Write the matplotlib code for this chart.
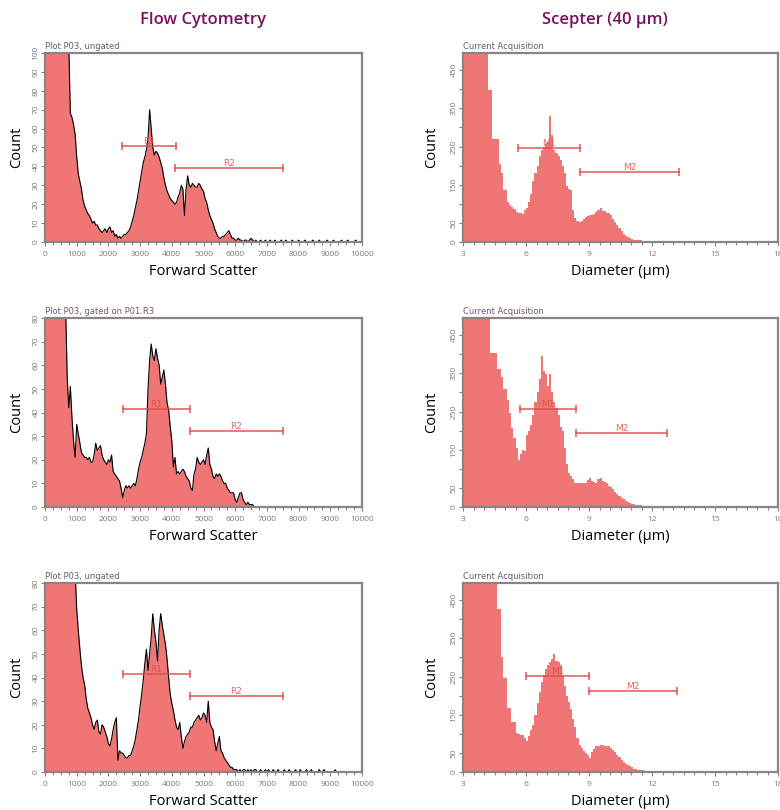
import numpy as np
from matplotlib import pyplot as plt

plt.rcParams['font.family'] = ['Open Sans', 'DejaVu Sans']

# flow cytometry histograms, channel width 50, 0..9950
fc_top = [
    300, 280, 260, 240, 220, 200, 185, 170, 160, 150, 140, 130, 125, 118, 110, 104, 68, 66, 62, 57,
    45, 36, 32, 28, 22, 19, 17, 15, 14, 12, 10, 11, 9, 9, 7, 6, 5, 6, 7, 5,
    7, 8, 5, 6, 3, 4, 2, 3, 2, 3, 4, 4, 5, 6, 8, 11, 14, 18, 22, 27,
    32, 37, 42, 45, 49, 55, 70, 60, 50, 46, 48, 47, 45, 42, 39, 34, 30, 27, 25, 23,
    22, 21, 20, 21, 24, 26, 30, 28, 14, 28, 35, 30, 29, 31, 30, 29, 29, 31, 30, 28,
    27, 23, 21, 17, 14, 12, 10, 7, 5, 3, 2, 2, 3, 3, 4, 5, 6, 4, 2, 2,
    1, 1, 2, 1, 1, 0, 1, 1, 0, 1, 2, 1, 0, 1, 0, 0, 1, 0, 0, 1,
    0, 0, 1, 0, 0, 1, 0, 0, 0, 1, 0, 0, 1, 0, 0, 0, 1, 0, 0, 0,
    1, 0, 0, 0, 1, 0, 0, 0, 0, 1, 0, 0, 0, 1, 0, 0, 0, 0, 1, 0,
    0, 0, 1, 0, 0, 0, 0, 1, 0, 0, 0, 1, 0, 0, 0, 0, 1, 0, 0, 0,
]
fc_mid = [
    200, 190, 180, 170, 160, 150, 140, 130, 120, 110, 100, 95, 90, 85, 55, 42, 51, 38, 28, 21,
    35, 31, 27, 23, 22, 21, 21, 20, 21, 19, 19, 22, 27, 24, 25, 26, 22, 20, 19, 18,
    20, 19, 22, 15, 14, 13, 12, 11, 8, 4, 7, 9, 8, 9, 8, 9, 10, 9, 12, 16,
    19, 21, 24, 27, 31, 50, 62, 69, 64, 62, 67, 63, 60, 52, 55, 58, 52, 44, 41, 34,
    28, 17, 21, 14, 15, 14, 15, 16, 15, 13, 12, 11, 8, 7, 14, 16, 21, 19, 18, 19,
    20, 18, 22, 25, 18, 16, 13, 12, 14, 13, 14, 13, 11, 10, 10, 8, 7, 6, 6, 6,
    3, 2, 4, 6, 6, 3, 2, 1, 2, 1, 1, 1, 0, 0, 0, 0, 0, 0, 0, 0,
    0, 0, 0, 0, 0, 0, 0, 0, 0, 0, 0, 0, 0, 0, 0, 0, 0, 0, 0, 0,
    0, 0, 0, 0, 0, 0, 0, 0, 0, 0, 0, 0, 0, 0, 0, 0, 0, 0, 0, 0,
    0, 0, 0, 0, 0, 0, 0, 0, 0, 0, 0, 0, 0, 0, 0, 0, 0, 0, 0, 0,
]
fc_bot = [
    300, 290, 280, 270, 260, 250, 240, 230, 220, 210, 200, 190, 180, 170, 160, 150, 140, 120, 100, 85,
    69, 60, 52, 45, 40, 37, 31, 27, 25, 23, 20, 18, 21, 22, 17, 16, 20, 19, 17, 15,
    12, 11, 14, 18, 21, 23, 5, 9, 8, 8, 7, 6, 6, 7, 7, 9, 11, 14, 18, 22,
    28, 33, 39, 46, 52, 43, 50, 57, 67, 60, 55, 47, 60, 67, 62, 58, 54, 48, 40, 33,
    29, 26, 22, 19, 18, 21, 15, 10, 13, 15, 16, 17, 19, 19, 21, 22, 23, 24, 22, 23,
    25, 24, 21, 30, 21, 19, 18, 13, 9, 12, 15, 9, 8, 6, 5, 4, 3, 2, 2, 1,
    1, 1, 0, 1, 0, 1, 1, 0, 1, 0, 1, 0, 1, 1, 0, 0, 1, 0, 0, 1,
    0, 1, 0, 0, 1, 0, 0, 1, 0, 0, 0, 1, 0, 0, 1, 0, 0, 0, 1, 0,
    0, 1, 0, 0, 0, 1, 0, 0, 1, 0, 0, 0, 0, 1, 0, 0, 1, 0, 0, 0,
    0, 0, 0, 1, 0, 0, 0, 0, 0, 0, 0, 0, 0, 0, 0, 0, 0, 0, 0, 0,
]

# scepter histograms, bin width 0.1 um, 3.0..13.0
sc_top = [
    900, 880, 850, 800, 760, 720, 680, 640, 600, 560,
    520, 510, 399, 399, 269, 269, 269, 203, 180, 137,
    137, 106, 97, 92, 86, 79, 75, 75, 74, 84,
    90, 105, 125, 160, 180, 200, 225, 240, 250, 256,
    262, 330, 280, 240, 232, 225, 215, 200, 180, 146,
    140, 137, 84, 62, 55, 52, 56, 60, 66, 68,
    71, 70, 74, 78, 85, 90, 80, 82, 75, 76,
    72, 60, 52, 44, 36, 30, 22, 17, 13, 10,
    8, 6, 5, 4, 4, 3, 3, 2, 2, 2,
    1, 1, 1, 1, 1, 1, 0, 0, 0, 0,
]
sc_mid = [
    900, 880, 860, 820, 780, 740, 700, 660, 620, 590,
    560, 540, 520, 403, 403, 403, 361, 361, 340, 310,
    310, 280, 245, 207, 180, 155, 122, 138, 150, 146,
    189, 200, 215, 241, 275, 300, 335, 396, 357, 349,
    318, 349, 301, 275, 260, 241, 210, 198, 155, 112,
    90, 80, 73, 64, 62, 62, 64, 63, 62, 70,
    77, 69, 66, 64, 73, 75, 69, 65, 62, 56,
    52, 47, 39, 34, 30, 24, 20, 17, 12, 10,
    9, 7, 5, 5, 4, 3, 3, 2, 2, 1,
    1, 1, 1, 0, 0, 0, 0, 0, 0, 0,
]
sc_bot = [
    900, 880, 860, 840, 800, 770, 740, 700, 670, 640,
    610, 580, 560, 540, 520, 505, 428, 428, 302, 245,
    245, 167, 167, 132, 132, 102, 100, 97, 97, 90,
    80, 95, 110, 124, 150, 180, 210, 235, 255, 271,
    280, 289, 295, 310, 292, 289, 280, 254, 225, 200,
    184, 165, 140, 118, 90, 70, 62, 56, 50, 45,
    37, 52, 60, 67, 68, 70, 72, 69, 67, 68,
    64, 58, 52, 45, 38, 32, 27, 22, 18, 15,
    12, 9, 7, 5, 5, 4, 3, 3, 2, 2,
    2, 2, 1, 1, 1, 1, 0, 0, 0, 0,
]

fc_data = [fc_top, fc_mid, fc_bot]
sc_data = [sc_top, sc_mid, sc_bot]
fc_ymax = [100, 80, 80]
fc_headers = ['Plot P03, ungated', 'Plot P03, gated on P01.R3', 'Plot P03, ungated']

# gates: (start, end, level)
fc_r1 = [(2420, 4130, 51), (2470, 4560, 41.6), (2470, 4560, 41.6)]
fc_r2 = [(4100, 7500, 39), (4560, 7500, 32), (4560, 7500, 32.3)]
sc_m1 = [(5.6, 8.56, 247), (5.7, 8.4, 256), (6.0, 9.0, 252)]
sc_m2 = [(8.56, 13.3, 183), (8.4, 12.7, 195), (9.0, 13.2, 211)]

fill_c = '#f07676'
gate_c = '#e24a4a'
frame_c = '#8c8484'
tick_c = '#7a7a7a'
title_c = '#7b1060'

fig = plt.figure(figsize=(7.8, 8.1), dpi=100)

rows_bottom = [1 - 242 / 810, 1 - 507 / 810, 1 - 772 / 810]
ax_h = 189 / 810


def style_axes(ax):
    for s in ax.spines.values():
        s.set_color(frame_c)
        s.set_linewidth(1.6)
    ax.tick_params(which='both', colors=frame_c, labelcolor=tick_c, labelsize=6, length=3, width=0.8)
    ax.tick_params(which='minor', length=2)
    ax.tick_params(axis='y', pad=1)
    for t in ax.get_yticklabels():
        t.set_rotation(90)
        t.set_va('center')


def draw_gate(ax, gate, name):
    x0, x1, y = gate
    ax.plot([x0, x1], [y, y], color=gate_c, lw=1.2, alpha=0.85, zorder=5)
    ax.plot([x0, x1], [y, y], '|', color=gate_c, ms=6, mew=1.2, alpha=0.85, zorder=5)
    ax.text((x0 + x1) / 2, y, name, color=gate_c, fontsize=6.5, ha='center', va='bottom',
            family='DejaVu Sans', alpha=0.85, zorder=6)


fc_x = np.arange(0, 10000, 50)
sc_edges = np.linspace(3.0, 13.0, 101)

for i in range(3):
    # flow cytometry
    ax = fig.add_axes([45 / 780, rows_bottom[i], 317 / 780, ax_h])
    y = np.array(fc_data[i])
    ax.fill_between(fc_x, y, color=fill_c, lw=0)
    ax.plot(fc_x, y, color='black', lw=0.8)
    ax.set_xlim(0, 10000)
    ax.set_ylim(0, fc_ymax[i])
    ax.set_xticks(range(0, 10001, 1000))
    ax.set_xticks(range(0, 10001, 250), minor=True)
    ax.set_yticks(range(0, fc_ymax[i] + 1, 10))
    style_axes(ax)
    ax.set_ylabel('Count', fontsize=10.5, labelpad=6)
    ax.set_xlabel('Forward Scatter', fontsize=10.5, labelpad=4)
    ax.text(0, 1.012, fc_headers[i], transform=ax.transAxes, fontsize=6, color='#6a5a70',
            family='DejaVu Sans', va='bottom')
    draw_gate(ax, fc_r1[i], 'R1')
    draw_gate(ax, fc_r2[i], 'R2')

    # scepter
    ax = fig.add_axes([463 / 780, rows_bottom[i], 315 / 780, ax_h])
    ax.stairs(sc_data[i], sc_edges, fill=True, color=fill_c, lw=0.8)
    ax.set_xlim(3, 18)
    ax.set_ylim(0, 495)
    ax.set_xticks([3, 6, 9, 12, 15, 18])
    ax.set_xticks(np.arange(3, 18.01, 0.5), minor=True)
    ax.set_yticks(range(0, 451, 50))
    ax.set_yticklabels(['0', '50', '', '150', '', '250', '', '350', '', '450'])
    style_axes(ax)
    ax.set_ylabel('Count', fontsize=10.5, labelpad=8)
    ax.set_xlabel('Diameter (µm)', fontsize=10.5, labelpad=4)
    ax.text(0, 1.012, 'Current Acquisition', transform=ax.transAxes, fontsize=6, color='#6a5a70',
            family='DejaVu Sans', va='bottom')
    draw_gate(ax, sc_m1[i], 'M1')
    draw_gate(ax, sc_m2[i], 'M2')

fig.text(203 / 780, 1 - 20 / 810, 'Flow Cytometry', ha='center', va='center',
         fontsize=12, fontweight='semibold', color=title_c)
fig.text(605 / 780, 1 - 20 / 810, 'Scepter (40 µm)', ha='center', va='center',
         fontsize=12, fontweight='semibold', color=title_c)

plt.savefig('out.png', dpi=100)
